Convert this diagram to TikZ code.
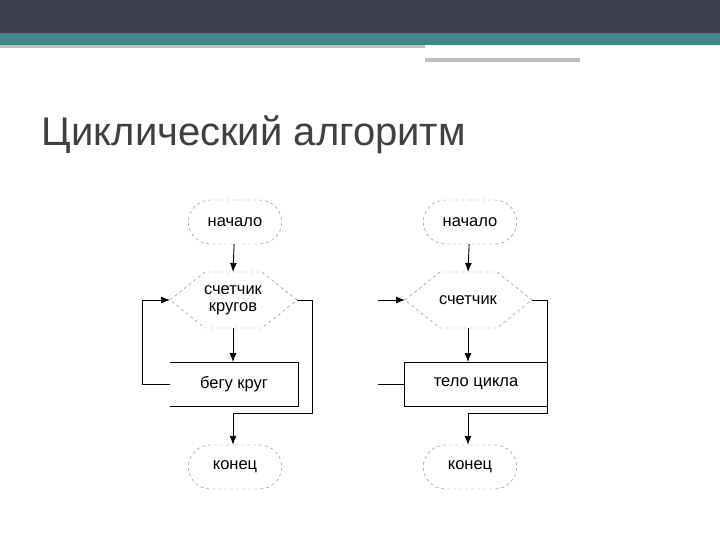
\documentclass[tikz,border=0pt]{standalone}
\usepackage{fontspec}
\setmainfont{Liberation Sans}
\usetikzlibrary{shapes.misc,arrows.meta}
\definecolor{bardark}{HTML}{3F3F52}
\definecolor{barteal}{HTML}{44858A}
\definecolor{titlegray}{HTML}{404040}
\begin{document}
\begin{tikzpicture}[
            x=1pt, y=-1pt,
            >={Latex[length=9pt,width=7pt]},
            line width=0.9pt,
            term/.style={rounded rectangle, draw=gray, dashed, thin, minimum width=100pt, minimum height=44pt, font=\fontsize{16.5}{18}\selectfont},
            body/.style={minimum width=128pt, minimum height=43pt, font=\fontsize{16.5}{18}\selectfont},
            lbl/.style={font=\fontsize{16.5}{18}\selectfont, align=center}
        ]
        \useasboundingbox (0,0) rectangle (720,540);

        % Header bars
        \fill[bardark] (0,0) rectangle (720,33);
        \fill[barteal] (0,33) rectangle (720,45);
        \fill[gray!50] (0,45) rectangle (425,48);
        \fill[gray!50] (425,58) rectangle (580,62);
        \fill[white] (428,50) rectangle (665,54);

        % Title
        \node[anchor=west, text=titlegray, font=\fontsize{40}{44}\selectfont] (title) at (38,135) {Циклический алгоритм};

        % Left chart
        \node[term] (startA) at (235,222) {начало};
        \node[lbl] (cntA) at (233,300) {счетчик\\[-1pt]кругов};
        \draw[dashed, gray, thin] (170,300) -- (205,272) -- (262,272) -- (297,300) -- (262,328) -- (205,328) -- cycle;
        \node[body] (bodyA) at (234,384) {бегу круг};
        \draw (bodyA.north west) -- (bodyA.north east) -- (bodyA.south east) -- (bodyA.south west);
        \node[term] (endA) at (235,467) {конец};
        \coordinate (inA) at (170,300);
        \coordinate (outA) at (297,300);

        \draw[->] (startA) -- (233,272);
        \draw[->] (233,328) -- (bodyA.north -| 233,0);
        \draw[->] (bodyA.west) -- ++(-27,0) |- (inA);
        \draw[->] (outA) -- (312,300) -- (312,413) -- (233,413) -- (endA.north -| 233,0);

        % Right chart
        \node[term] (startB) at (470,222) {начало};
        \node[lbl] (cntB) at (468,300) {счетчик};
        \draw[dashed, gray, thin] (405,300) -- (440,272) -- (497,272) -- (532,300) -- (497,328) -- (440,328) -- cycle;
        \node[body, minimum width=142pt] (bodyB) at (476,384) {тело цикла};
        \draw (bodyB.north west) -- (bodyB.north east) -- (bodyB.south east) -- (bodyB.south west) -- cycle;
        \node[term] (endB) at (470,467) {конец};
        \coordinate (inB) at (405,300);
        \coordinate (outB) at (532,300);
        \coordinate (feedB) at (378,300);
        \coordinate (backB) at (378,384);

        \draw[->] (startB) -- (468,272);
        \draw[->] (468,328) -- (bodyB.north -| 468,0);
        \draw[->] (feedB) -- (inB);
        \draw (bodyB.west) -- (backB);
        \draw[->] (outB) -- (547,300) -- (547,413) -- (468,413) -- (endB.north -| 468,0);

        \end{tikzpicture}
\end{document}
